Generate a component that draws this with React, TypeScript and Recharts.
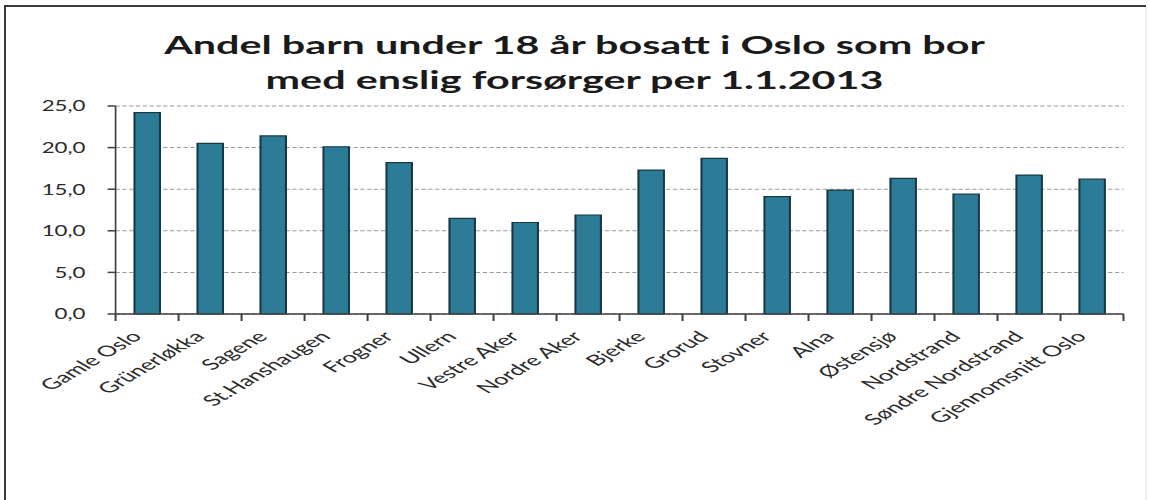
import React from 'react';
import { Bar, BarChart, CartesianGrid, XAxis, YAxis } from 'recharts';

// The source picture is a screenshot stretched sideways, so the chart is drawn
// narrow and widened with a CSS scaleX to match it.
const STRETCH = 1.7;
const WIDTH = 1149;
const HEIGHT = 500;
const INNER_W = Math.round(WIDTH / STRETCH);

const bydeler = [
  'Gamle Oslo',
  'Grünerløkka',
  'Sagene',
  'St.Hanshaugen',
  'Frogner',
  'Ullern',
  'Vestre Aker',
  'Nordre Aker',
  'Bjerke',
  'Grorud',
  'Stovner',
  'Alna',
  'Østensjø',
  'Nordstrand',
  'Søndre Nordstrand',
  'Gjennomsnitt Oslo',
];

const andel = [24.2, 20.5, 21.4, 20.1, 18.2, 11.5, 11.0, 11.9, 17.3, 18.7, 14.1, 14.9, 16.3, 14.4, 16.7, 16.2];

const yTicks = [0, 5, 10, 15, 20, 25];

const titleLines = ['Andel barn under 18 år bosatt i Oslo som bor', 'med enslig forsørger per 1.1.2013'];

const data = bydeler.map((navn, i) => ({ navn, andel: andel[i] }));

const FONT = 'Lato, "Open Sans", sans-serif';

// category label, plus Excel-style tick marks between the categories
const XTick = (props: any) => {
  const { x, y, payload, index, width, visibleTicksCount } = props;
  const band = Number(width) / Number(visibleTicksCount);
  const ax = x - 6;
  const ay = y + 20;
  const marks: number[] = [];
  if (Number.isFinite(band) && band > 0) {
    marks.push(x - band / 2);
    if (index === visibleTicksCount - 1) marks.push(x + band / 2);
  }
  return (
    <g>
      {marks.map((mx) => (
        <line key={mx} x1={mx} x2={mx} y1={y} y2={y + 7} stroke="#404040" strokeWidth={1.2} />
      ))}
      <text
        x={ax}
        y={ay}
        dy={5}
        textAnchor="end"
        transform={`rotate(-45, ${ax}, ${ay})`}
        fill="#2b2b2b"
        fontSize={15}
        fontFamily="Lato"
      >
        {payload.value}
      </text>
    </g>
  );
};

// Calibri digits are narrower than Lato's, so squeeze the y labels a little
const YTick = (props: any) => {
  const { x, y, payload } = props;
  const k = 0.82;
  return (
    <text
      x={x}
      y={y}
      dy={5.5}
      textAnchor="end"
      transform={`matrix(${k},0,0,1,${x * (1 - k)},0)`}
      fill="#2b2b2b"
      fontSize={16}
      fontFamily="Lato"
    >
      {payload.value.toFixed(1).replace('.', ',')}
    </text>
  );
};

export default function App() {
  return (
    <div
      style={{
        position: 'fixed',
        left: 0,
        top: 0,
        width: WIDTH,
        height: HEIGHT,
        overflow: 'hidden',
        background: '#fff',
        fontFamily: FONT,
      }}
    >
      <div
        style={{
          position: 'absolute',
          left: 0,
          top: 0,
          width: INNER_W,
          height: HEIGHT,
          transform: `scaleX(${WIDTH / INNER_W})`,
          transformOrigin: '0 0',
        }}
      >
        <svg width={INNER_W} height={110} style={{ position: 'absolute', left: 0, top: 0 }}>
          {titleLines.map((line, i) => (
            <text
              key={line}
              x={INNER_W / 2}
              y={54 + i * 35}
              textAnchor="middle"
              fontFamily="Lato"
              fontWeight={700}
              fontSize={24.3}
              fill="#1a1a1a"
            >
              {line}
            </text>
          ))}
        </svg>
        <BarChart
          width={INNER_W}
          height={HEIGHT}
          data={data}
          margin={{ top: 106, right: 15, left: 0, bottom: 0 }}
          barCategoryGap="30%"
          style={{ position: 'absolute', left: 0, top: 0 }}
        >
          <CartesianGrid vertical={false} stroke="#9a9a9a" strokeDasharray="2.5 1.5" />
          <XAxis
            dataKey="navn"
            interval={0}
            tickLine={false}
            tickSize={0}
            tickMargin={0}
            axisLine={{ stroke: '#404040', strokeWidth: 1.5 }}
            tick={<XTick />}
            height={186}
          />
          <YAxis
            domain={[0, 25]}
            ticks={yTicks}
            interval={0}
            width={68}
            tickSize={4.7}
            tickMargin={13}
            tickLine={{ stroke: '#404040', strokeWidth: 1.5 }}
            axisLine={{ stroke: '#404040', strokeWidth: 1 }}
            tick={<YTick />}
          />
          <Bar
            dataKey="andel"
            fill="#2c7c98"
            stroke="#163844"
            strokeWidth={1.2}
            isAnimationActive={false}
          />
        </BarChart>
      </div>
      <svg
        width={WIDTH}
        height={HEIGHT}
        style={{ position: 'absolute', left: 0, top: 0, pointerEvents: 'none' }}
      >
        <rect x={1136} y={8} width={13} height={HEIGHT} fill="#fff" />
        <path d="M5,500 V6 H1146" fill="none" stroke="#3a3a3a" strokeWidth={2} />
        <path d="M1146,7 V500" fill="none" stroke="#e2e2e2" strokeWidth={1} />
      </svg>
    </div>
  );
}
